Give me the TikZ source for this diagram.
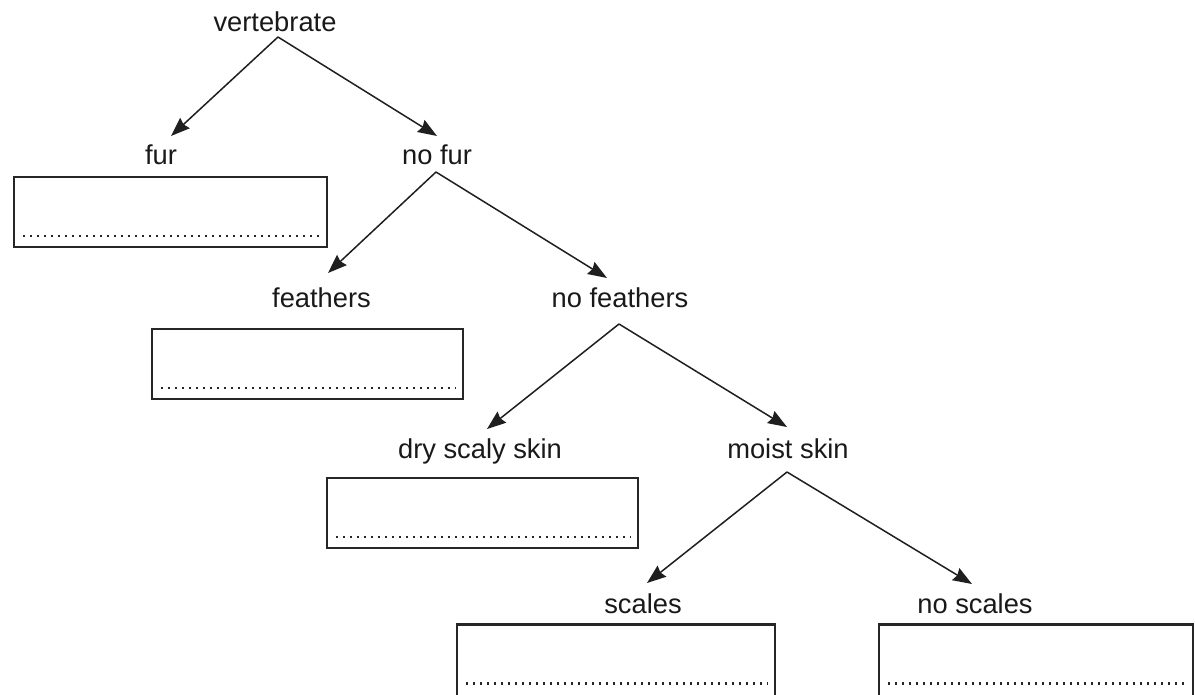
\documentclass[tikz,border=0pt]{standalone}
\usepackage{fontspec}
\setmainfont{Liberation Sans}
\usetikzlibrary{arrows.meta}
\begin{document}
\begin{tikzpicture}[x=1pt,y=-1pt,
  lbl/.style={anchor=base,inner sep=0pt,font=\fontsize{27.3}{32}\selectfont,text=black!90},
  arr/.style={line width=1.5pt,draw=black!88,-{Stealth[length=19pt,width=14pt,inset=2pt]}},
  ansbox/.style={draw=black!85,line width=2.2pt,minimum height=70pt,inner sep=0pt},
  dots/.style={line width=2.4pt,draw=black!85,dash pattern=on 2.4pt off 4.6pt}]
\useasboundingbox (0,0) rectangle (1195,694);
% labels
\node[lbl] (vert) at (275,31) {vertebrate};
\node[lbl] (fur) at (161,164) {fur};
\node[lbl] (nofur) at (437,164) {no fur};
\node[lbl] (feath) at (321.5,307) {feathers};
\node[lbl] (nofeath) at (620,307) {no feathers};
\node[lbl] (dry) at (480,458) {dry scaly skin};
\node[lbl] (moist) at (788,458) {moist skin};
\node[lbl] (scales) at (643,613) {scales};
\node[lbl] (noscales) at (975,613) {no scales};
% arrow anchors
\coordinate (vert-a) at (278,37);
\coordinate (fur-t) at (171,136);
\coordinate (nofur-t) at (437,136);
\coordinate (nofur-a) at (436,172);
\coordinate (feath-t) at (328,273);
\coordinate (nofeath-t) at (607,278);
\coordinate (nofeath-a) at (619,324);
\coordinate (dry-t) at (487,429);
\coordinate (moist-t) at (787,427);
\coordinate (moist-a) at (787,472);
\coordinate (scales-t) at (647,583);
\coordinate (noscales-t) at (972,584);
\draw[arr] (vert-a) -- (fur-t);
\draw[arr] (vert-a) -- (nofur-t);
\draw[arr] (nofur-a) -- (feath-t);
\draw[arr] (nofur-a) -- (nofeath-t);
\draw[arr] (nofeath-a) -- (dry-t);
\draw[arr] (nofeath-a) -- (moist-t);
\draw[arr] (moist-a) -- (scales-t);
\draw[arr] (moist-a) -- (noscales-t);
% answer boxes
\node[ansbox,minimum width=313pt] (furbox) at (170.5,212) {};
\node[ansbox,minimum width=311pt] (feathbox) at (307.5,364) {};
\node[ansbox,minimum width=311pt] (drybox) at (482.5,513) {};
\node[ansbox,minimum width=318pt,minimum height=74pt] (scalesbox) at (616,661.5) {};
\node[ansbox,minimum width=314pt,minimum height=74pt] (noscalesbox) at (1036,661.5) {};
\foreach \b in {furbox,feathbox,drybox}{
  \draw[dots] ([xshift=10pt,yshift=12pt]\b.south west) -- ([xshift=-8pt,yshift=12pt]\b.south east);
}
\foreach \b in {scalesbox,noscalesbox}{
  \draw[dots] ([xshift=10pt,yshift=16pt]\b.south west) -- ([xshift=-8pt,yshift=16pt]\b.south east);
}
\end{tikzpicture}
\end{document}
